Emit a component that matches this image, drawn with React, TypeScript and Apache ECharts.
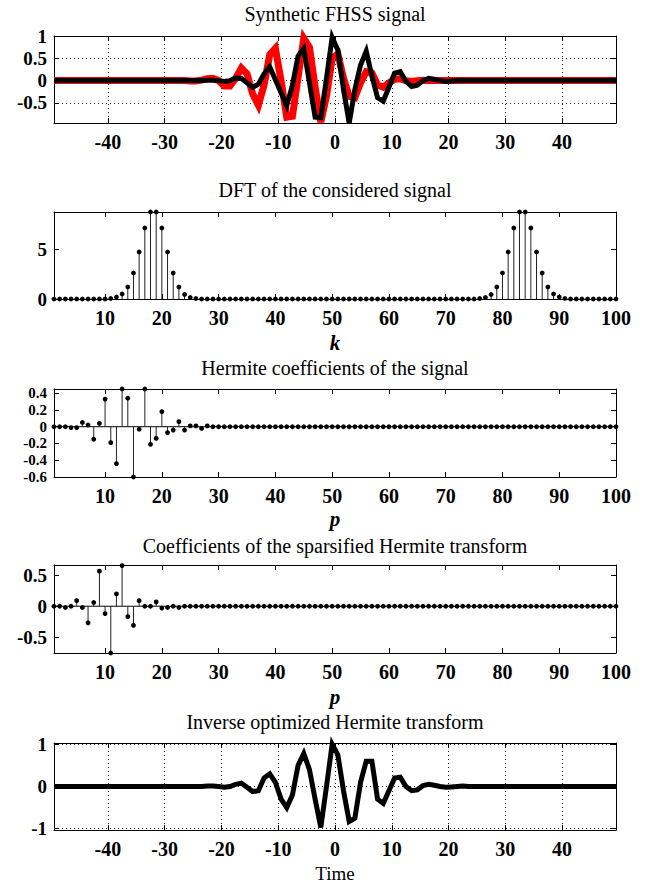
import React, { useEffect, useRef } from "react";
import * as echarts from "echarts";

// ---------- data ----------
// time samples for the signals (100 samples, centred)
const timeSamples: number[] = Array.from({ length: 100 }, (_, i) => i - 49.5);
// coefficient / frequency index 1..100
const indexSamples: number[] = Array.from({ length: 100 }, (_, i) => i + 1);

const redSignal: number[] = [
  0, 0, 0, 0, 0, 0, 0, 0, 0, 0,
  0, 0, 0, 0, 0, 0, 0, 0, 0, 0,
  0, 0, 0, 0, -0.01, -0.01, 0.01, 0.04, 0.05, 0.0,
  -0.12, -0.12, 0.05, 0.28, 0.15, -0.3, -0.55, -0.1, 0.58, 0.72,
  0.0, -0.82, -0.8, 0.08, 0.95, 0.75, -0.15, -0.93, -0.35, 0.5,
  0.6, 0.05, -0.35, -0.38, -0.05, 0.2, 0.17, -0.1, -0.15, -0.05,
  0.03, 0.04, 0.0, -0.02, 0.0, 0.01, 0, 0, 0, 0,
  0, 0, 0, 0, 0, 0, 0, 0, 0, 0,
  0, 0, 0, 0, 0, 0, 0, 0, 0, 0,
  0, 0, 0, 0, 0, 0, 0, 0, 0, 0,
];

const blackSignal: number[] = [
  0, 0, 0, 0, 0, 0, 0, 0, 0, 0,
  0, 0, 0, 0, 0, 0, 0, 0, 0, 0,
  0, 0, 0, 0, 0, 0, 0.0, 0.01, 0.01, 0.0,
  -0.02, 0.0, 0.06, 0.05, -0.05, -0.15, -0.08, 0.15, 0.31, 0.02,
  -0.27, -0.56, -0.1, 0.55, 0.72, -0.05, -0.82, -0.83, 0.05, 0.97,
  0.68, -0.2, -0.95, -0.2, 0.35, 0.66, 0.1, -0.38, -0.46, -0.15,
  0.17, 0.2, -0.02, -0.13, -0.1, 0.0, 0.05, 0.03, 0.0, -0.02,
  -0.01, 0, 0.01, 0, 0, 0, 0, 0, 0, 0,
  0, 0, 0, 0, 0, 0, 0, 0, 0, 0,
  0, 0, 0, 0, 0, 0, 0, 0, 0, 0,
];

const dftMagnitude: number[] = [
  0, 0, 0, 0, 0, 0, 0, 0, 0, 0,
  0.05, 0.2, 0.5, 1.2, 2.6, 4.7, 7.1, 8.7, 8.7, 7.1,
  4.7, 2.6, 1.2, 0.45, 0.15, 0.05, 0, 0, 0, 0,
  0, 0, 0, 0, 0, 0, 0, 0, 0, 0,
  0, 0, 0, 0, 0, 0, 0, 0, 0, 0,
  0, 0, 0, 0, 0, 0, 0, 0, 0, 0,
  0, 0, 0, 0, 0, 0, 0, 0, 0, 0,
  0, 0, 0, 0, 0, 0.05, 0.15, 0.45, 1.2, 2.6,
  4.7, 7.1, 8.7, 8.7, 7.1, 4.7, 2.6, 1.2, 0.5, 0.2,
  0.05, 0, 0, 0, 0, 0, 0, 0, 0, 0,
];

const hermiteCoeffs: number[] = [
  0, 0, 0, -0.01, -0.01, 0.05, 0.02, -0.15, 0.04, 0.33,
  -0.19, -0.44, 0.45, 0.34, -0.6, -0.03, 0.45, -0.21, -0.14, 0.18,
  -0.07, -0.04, 0.06, -0.04, 0.01, 0.01, -0.02, 0.01, 0, 0,
  0, 0, 0, 0, 0, 0, 0, 0, 0, 0,
  0, 0, 0, 0, 0, 0, 0, 0, 0, 0,
  0, 0, 0, 0, 0, 0, 0, 0, 0, 0,
  0, 0, 0, 0, 0, 0, 0, 0, 0, 0,
  0, 0, 0, 0, 0, 0, 0, 0, 0, 0,
  0, 0, 0, 0, 0, 0, 0, 0, 0, 0,
  0, 0, 0, 0, 0, 0, 0, 0, 0, 0,
];

const sparseCoeffs: number[] = [
  0, 0, -0.02, 0, 0.09, -0.02, -0.27, 0.06, 0.57, -0.12,
  -0.76, 0.2, 0.66, -0.17, -0.31, 0.09, 0, 0, 0.07, -0.03,
  -0.02, 0, -0.02, 0, 0, 0, 0, 0, 0, 0,
  0, 0, 0, 0, 0, 0, 0, 0, 0, 0,
  0, 0, 0, 0, 0, 0, 0, 0, 0, 0,
  0, 0, 0, 0, 0, 0, 0, 0, 0, 0,
  0, 0, 0, 0, 0, 0, 0, 0, 0, 0,
  0, 0, 0, 0, 0, 0, 0, 0, 0, 0,
  0, 0, 0, 0, 0, 0, 0, 0, 0, 0,
  0, 0, 0, 0, 0, 0, 0, 0, 0, 0,
];

const inverseSignal: number[] = [
  0, 0, 0, 0, 0, 0, 0, 0, 0, 0,
  0, 0, 0, 0, 0, 0, 0, 0, 0, 0,
  0, 0, 0, 0, 0, 0, 0.0, 0.01, 0.01, 0.0,
  -0.02, 0.0, 0.05, 0.08, -0.02, -0.12, -0.1, 0.2, 0.3, 0.1,
  -0.3, -0.5, -0.2, 0.5, 0.78, 0.4, -0.3, -0.97, 0.0, 1.0,
  0.75, -0.1, -0.83, -0.75, 0.1, 0.6, 0.6, -0.3, -0.4, -0.1,
  0.2, 0.22, 0.0, -0.1, -0.08, 0.02, 0.05, 0.03, 0.0, -0.02,
  -0.01, 0, 0.01, 0, 0, 0, 0, 0, 0, 0,
  0, 0, 0, 0, 0, 0, 0, 0, 0, 0,
  0, 0, 0, 0, 0, 0, 0, 0, 0, 0,
];

const timeTicks: number[] = [-40, -30, -20, -10, 0, 10, 20, 30, 40];
const indexTicks: number[] = [10, 20, 30, 40, 50, 60, 70, 80, 90, 100];
const yTicks1: number[] = [-0.5, 0, 0.5, 1];
const yTicks2: number[] = [0, 5];
const yTicks3: number[] = [-0.6, -0.4, -0.2, 0, 0.2, 0.4];
const yTicks4: number[] = [-0.5, 0, 0.5];
const yTicks5: number[] = [-1, 0, 1];

const titles: string[] = [
  "Synthetic FHSS signal",
  "DFT of the considered signal",
  "Hermite coefficients of the signal",
  "Coefficients of the sparsified Hermite transform",
  "Inverse optimized Hermite transform",
];
const axisNames: string[] = ["k", "p", "p", "Time"];

// ---------- layout ----------
const LEFT = 54;
const RIGHT = 34;
const TOPS = [36, 212, 389, 565, 743];
const HEIGHTS = [87, 87, 88, 88, 87];
const CENTER_X = 335;
const TITLE_Y = [14, 190, 368, 546, 722];
const NAME_Y = [343, 519, 697, 873];
const Y_FONT = [19, 19, 15, 19, 19];

const SERIF = "'Liberation Serif', 'Times New Roman', Times, serif";

const fmt = (v: number) => String(Math.round(v * 100) / 100);

function makeAxes(
  gi: number,
  xr: [number, number],
  xticks: number[],
  yr: [number, number],
  yticks: number[],
  grid: boolean
) {
  const lineStyle = { color: "#000", width: 1 };
  const baseFont = {
    fontFamily: SERIF,
    fontWeight: "bold" as const,
    color: "#000",
  };
  const split = {
    show: grid,
    lineStyle: { type: [1, 3] as any, color: "#222", width: 1 },
  };
  const xBase = {
    type: "value" as const,
    gridIndex: gi,
    min: xr[0],
    max: xr[1],
    axisLine: { show: true, onZero: false, lineStyle },
    axisTick: { show: true, inside: true, length: 5, customValues: xticks, lineStyle },
  };
  const yBase = {
    type: "value" as const,
    gridIndex: gi,
    min: yr[0],
    max: yr[1],
    axisLine: { show: true, onZero: false, lineStyle },
    axisTick: { show: true, inside: true, length: 5, customValues: yticks, lineStyle },
  };
  const xAxes = [
    {
      ...xBase,
      position: "bottom",
      axisLabel: {
        show: true,
        customValues: xticks,
        margin: 9,
        formatter: fmt,
        showMinLabel: true,
        showMaxLabel: true,
        fontSize: 20,
        ...baseFont,
      },
      splitLine: split,
    },
    {
      ...xBase,
      position: "top",
      axisLabel: { show: false },
      splitLine: { show: false },
    },
  ];
  const yAxes = [
    {
      ...yBase,
      position: "left",
      axisLabel: {
        show: true,
        customValues: yticks,
        margin: 7,
        formatter: fmt,
        showMinLabel: true,
        showMaxLabel: true,
        hideOverlap: false,
        fontSize: Y_FONT[gi],
        lineHeight: Y_FONT[gi],
        ...baseFont,
      },
      splitLine: split,
    },
    {
      ...yBase,
      position: "right",
      axisLabel: { show: false },
      splitLine: { show: false },
    },
  ];
  return { xAxes, yAxes };
}

const stemRender = (_params: any, api: any) => {
  const x = api.value(0);
  const y = api.value(1);
  const base = api.coord([x, 0]);
  const tip = api.coord([x, y]);
  return {
    type: "group",
    children: [
      {
        type: "line",
        shape: { x1: base[0], y1: base[1], x2: tip[0], y2: tip[1] },
        style: { stroke: "#222", lineWidth: 1 },
      },
      {
        type: "circle",
        shape: { cx: tip[0], cy: tip[1], r: 2.4 },
        style: { fill: "#000" },
      },
    ],
  };
};

export default function App() {
  const ref = useRef<HTMLDivElement>(null);

  useEffect(() => {
    if (!ref.current) return;
    const chart = echarts.init(ref.current, undefined, { renderer: "svg" });

    const panels = [
      makeAxes(0, [-49.5, 49.5], timeTicks, [-0.95, 1.0], yTicks1, true),
      makeAxes(1, [1, 100], indexTicks, [0, 8.7], yTicks2, false),
      makeAxes(2, [1, 100], indexTicks, [-0.6, 0.45], yTicks3, false),
      makeAxes(3, [1, 100], indexTicks, [-0.76, 0.67], yTicks4, false),
      makeAxes(4, [-49.5, 49.5], timeTicks, [-1.03, 1.03], yTicks5, true),
    ];
    const xAxis: any[] = [];
    const yAxis: any[] = [];
    panels.forEach((p) => {
      xAxis.push(...p.xAxes);
      yAxis.push(...p.yAxes);
    });

    const grid = TOPS.map((t, i) => ({
      left: LEFT,
      right: RIGHT,
      top: t,
      height: HEIGHTS[i],
      containLabel: false,
    }));

    const pairs = (xs: number[], ys: number[]) => xs.map((x, i) => [x, ys[i]]);

    const lineSeries = (gi: number, data: number[][], color: string, width: number, z: number) => ({
      type: "line",
      xAxisIndex: gi * 2,
      yAxisIndex: gi * 2,
      data,
      showSymbol: false,
      symbol: "none",
      clip: false,
      z,
      lineStyle: { color, width, join: "miter" },
    });

    const stemSeries = (gi: number, ys: number[]) => ({
      type: "custom",
      coordinateSystem: "cartesian2d",
      xAxisIndex: gi * 2,
      yAxisIndex: gi * 2,
      data: pairs(indexSamples, ys),
      renderItem: stemRender,
      clip: false,
      z: 5,
    });

    const baseline = (gi: number) => ({
      type: "line",
      xAxisIndex: gi * 2,
      yAxisIndex: gi * 2,
      data: [
        [indexSamples[0], 0],
        [indexSamples[indexSamples.length - 1], 0],
      ],
      symbol: "none",
      z: 3,
      lineStyle: { color: "#000", width: 1 },
    });

    const graphic: any[] = [];
    titles.forEach((t, i) => {
      graphic.push({
        type: "text",
        x: CENTER_X,
        y: TITLE_Y[i],
        style: {
          text: t,
          textAlign: "center",
          textVerticalAlign: "middle",
          fontFamily: SERIF,
          fontSize: 20,
          fill: "#000",
        },
      });
    });
    axisNames.forEach((n, i) => {
      const isTime = n === "Time";
      graphic.push({
        type: "text",
        x: CENTER_X,
        y: NAME_Y[i],
        style: {
          text: n,
          textAlign: "center",
          textVerticalAlign: "middle",
          fontFamily: SERIF,
          fontSize: isTime ? 19 : 21,
          fontWeight: isTime ? "normal" : "bold",
          fontStyle: isTime ? "normal" : "italic",
          fill: "#000",
        },
      });
    });

    chart.setOption({
      animation: false,
      backgroundColor: "#fff",
      grid,
      xAxis,
      yAxis,
      graphic,
      series: [
        lineSeries(0, pairs(timeSamples, redSignal), "#ff0000", 7, 2),
        lineSeries(0, pairs(timeSamples, blackSignal), "#000000", 5, 3),
        stemSeries(1, dftMagnitude),
        baseline(2),
        stemSeries(2, hermiteCoeffs),
        baseline(3),
        stemSeries(3, sparseCoeffs),
        lineSeries(4, pairs(timeSamples, inverseSignal), "#000000", 5, 3),
      ],
    });

    return () => chart.dispose();
  }, []);

  return (
    <div
      ref={ref}
      style={{ position: "absolute", left: 0, top: 0, width: 650, height: 885, background: "#fff" }}
    />
  );
}
